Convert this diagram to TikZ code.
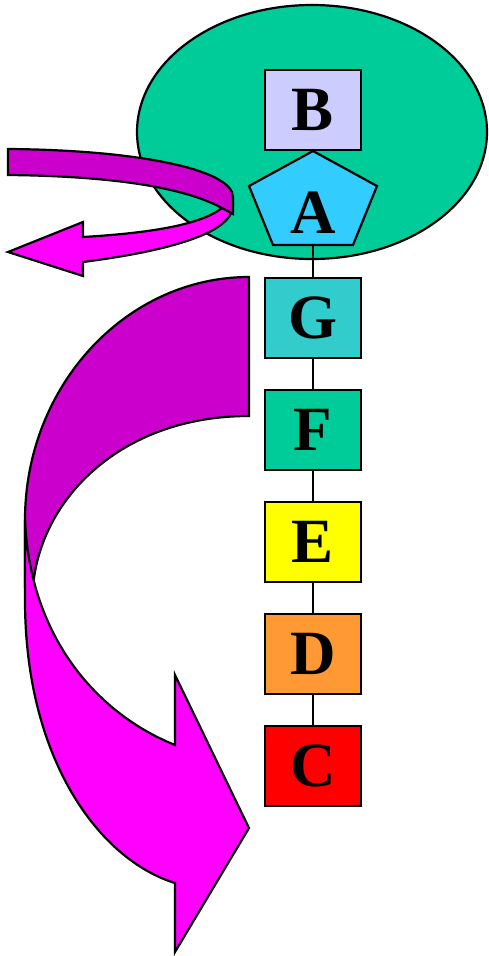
\documentclass[tikz,border=0pt]{standalone}
\usepackage{fontspec}
\setmainfont{Liberation Serif}
\usepackage{tikz}
\usetikzlibrary{positioning,shapes.geometric}
\definecolor{seagrn}{HTML}{00CC99}
\definecolor{lavnd}{HTML}{CCCCFF}
\definecolor{skyblu}{HTML}{33CCFF}
\definecolor{tealc}{HTML}{33CCCC}
\definecolor{yelw}{HTML}{FFFF00}
\definecolor{orng}{HTML}{FF9933}
\definecolor{redc}{HTML}{FF0000}
\definecolor{darkmag}{HTML}{CC00CC}
\definecolor{litemag}{HTML}{FF00FF}
\tikzset{
  lbox/.style  ={rectangle, draw=black, line width=2.2pt, inner sep=0pt,
                 minimum width=96pt, minimum height=80pt,
                 font=\fontsize{63}{63}\selectfont\bfseries},
  lettr/.style ={inner sep=0pt, font=\fontsize{63}{63}\selectfont\bfseries},
  band/.style  ={draw=black, line width=2.2pt, line join=miter},
  link/.style  ={draw=black, line width=2.2pt},
}
\begin{document}
\begin{tikzpicture}[x=1pt, y=-1pt]
  \useasboundingbox (0,0) rectangle (488,956);
  % cloud behind the top of the chain
  \node[ellipse, draw=black, line width=2.2pt, fill=seagrn,
        minimum width=350pt, minimum height=254pt] (blob) at (312,132) {};

  % small swirl arrow, front part first
  \filldraw[band, fill=litemag] (222,208) .. controls (200,225) and (150,233) .. (83,237)
       -- (83,222) -- (8,252) -- (83,276) -- (83,262)
       .. controls (160,252) and (233,235) .. (233,205) -- cycle;
  \filldraw[band, fill=darkmag] (8,149) .. controls (140,150) and (233,170) .. (233,197)
       -- (233,214) -- (222,208) .. controls (180,185) and (100,176) .. (8,175) -- cycle;

  % big curved arrow
  \filldraw[band, fill=darkmag] (249,277) -- (249,416)
       .. controls (120,416) and (40,500) .. (33,587) -- (25,587) -- (25,520)
       .. controls (25,386) and (126,277) .. (249,277) -- cycle;
  \filldraw[band, fill=litemag] (25,520) .. controls (30,640) and (100,715) .. (175,745)
       -- (175,675) -- (249,828) -- (175,952) -- (175,883)
       .. controls (100,860) and (25,760) .. (25,600) -- cycle;

  % chain
  \node[lbox, fill=lavnd] (B) at (313,110) {B};
  \filldraw[band, fill=skyblu] (313,151) -- (377,186) -- (353,245)
       -- (273,245) -- (249,186) -- cycle;
  \node[lettr] (A) at (313,213) {A};
  \coordinate (Abot) at (313,245);
  \node[lbox, fill=tealc] (G) at (313,318) {G};
  \node[lbox, fill=seagrn, below=29.8pt of G] (F) {F};
  \node[lbox, fill=yelw, below=29.8pt of F] (E) {E};
  \node[lbox, fill=orng, below=29.8pt of E] (D) {D};
  \node[lbox, fill=redc, below=29.8pt of D] (C) {C};

  \draw[link] (Abot) -- (G);
  \draw[link] (G) -- (F);
  \draw[link] (F) -- (E);
  \draw[link] (E) -- (D);
  \draw[link] (D) -- (C);
\end{tikzpicture}
\end{document}
